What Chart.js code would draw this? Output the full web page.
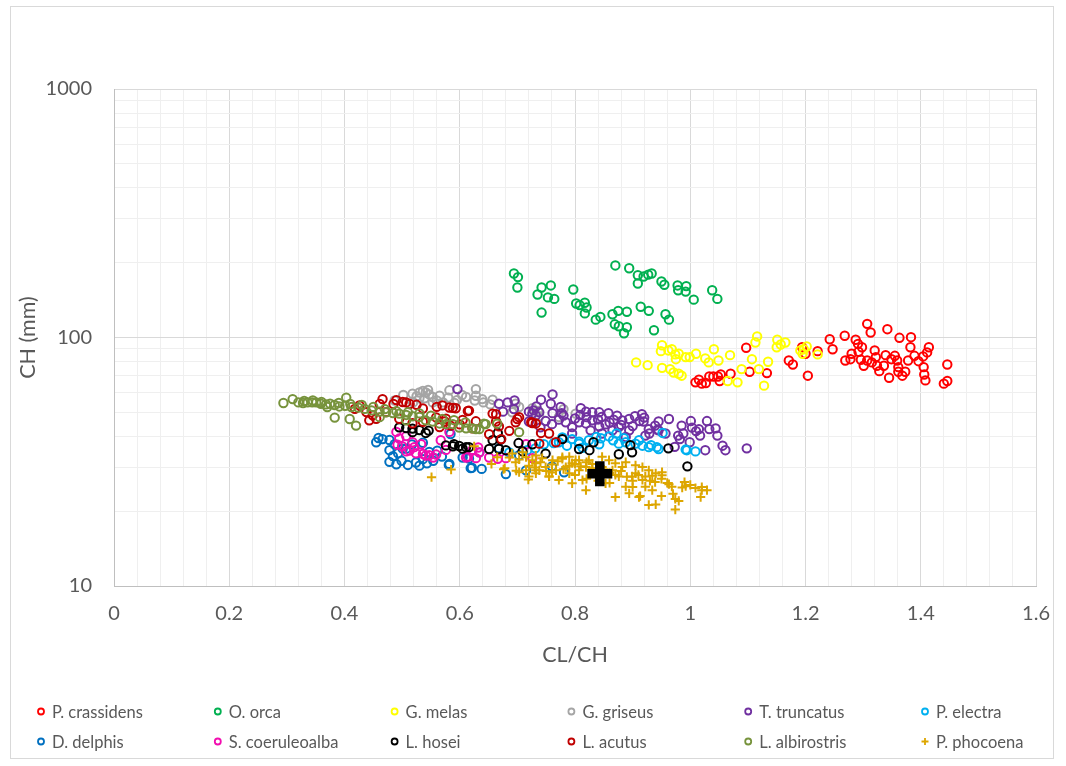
<!DOCTYPE html>
<html>
<head>
<meta charset="utf-8">
<script src="https://cdn.jsdelivr.net/npm/chart.js@4/dist/chart.umd.min.js"></script>
<style>
  html, body { margin: 0; padding: 0; background: #ffffff; }
  canvas { display: block; }
</style>
</head>
<body>
<canvas id="chart" width="1066" height="766"></canvas>
<script>
// CL/CH ratio (x) against CH in mm (y), one list of [x, y] per species
const crassidens = [[1.097,90.9],[1.009,66.0],[1.015,67.6],[1.020,65.2],[1.027,65.6],[1.033,69.7],[1.040,69.7],[1.048,69.7],[1.053,71.0],[1.051,66.8],[1.070,71.5],[1.103,72.8],[1.133,71.9],[1.171,80.8],[1.178,77.9],[1.194,91.4],[1.200,86.0],[1.204,70.2],[1.221,88.1],[1.242,98.4],[1.247,89.7],[1.268,101.6],[1.269,80.8],[1.278,81.8],[1.280,86.0],[1.287,97.9],[1.291,94.3],[1.292,87.6],[1.298,91.4],[1.296,81.4],[1.301,77.0],[1.307,113.5],[1.313,104.7],[1.307,80.8],[1.315,79.4],[1.320,88.7],[1.322,83.4],[1.324,77.0],[1.328,73.2],[1.336,77.0],[1.342,108.0],[1.339,84.9],[1.345,68.9],[1.349,81.8],[1.355,84.4],[1.359,80.8],[1.361,76.0],[1.363,99.7],[1.361,72.8],[1.368,70.2],[1.373,72.8],[1.378,80.8],[1.383,100.3],[1.382,91.4],[1.389,84.4],[1.396,80.3],[1.404,83.9],[1.405,76.0],[1.406,71.0],[1.408,67.2],[1.414,91.4],[1.411,87.1],[1.440,65.2],[1.446,77.9],[1.446,66.8]];
const orca = [[0.694,181],[0.701,175],[0.700,159],[0.742,159],[0.758,162],[0.735,149],[0.753,145],[0.764,143],[0.742,126],[0.797,156],[0.802,137],[0.808,135],[0.817,138],[0.820,132],[0.817,125],[0.836,118],[0.844,121],[0.870,195],[0.894,190],[0.909,178],[0.909,165],[0.919,176],[0.927,179],[0.933,181],[0.865,124],[0.875,128],[0.890,127],[0.869,113],[0.876,111],[0.890,110],[0.885,104],[0.914,133],[0.928,128],[0.937,107],[0.950,168],[0.955,163],[0.957,124],[0.963,118],[0.978,162],[0.993,161],[0.979,155],[0.992,153],[1.006,142],[1.038,155],[1.047,143]];
const melas = [[0.906,79.4],[0.926,77.4],[0.949,88.1],[0.951,93.1],[0.962,88.7],[0.968,89.7],[0.974,85.5],[0.975,81.8],[0.951,75.5],[0.965,74.6],[0.971,72.3],[0.980,71.5],[0.985,70.2],[0.992,83.4],[0.999,83.4],[1.010,86.0],[1.026,82.4],[1.032,79.4],[1.041,89.7],[1.049,80.8],[1.069,84.9],[1.089,74.6],[1.107,81.8],[1.113,95.5],[1.116,101.0],[1.119,74.6],[1.135,79.9],[1.065,66.8],[1.082,66.0],[1.128,64.0],[1.151,97.9],[1.150,91.4],[1.157,93.7],[1.165,95.5],[1.191,88.7],[1.197,89.7],[1.202,92.0],[1.195,86.0],[1.221,85.5],[0.980,86.0]];
const griseus = [[0.502,58.7],[0.518,59.4],[0.530,60.1],[0.536,60.9],[0.541,60.1],[0.547,59.0],[0.553,57.6],[0.560,55.8],[0.530,56.9],[0.539,56.9],[0.519,54.8],[0.582,61.3],[0.580,57.3],[0.604,58.7],[0.611,57.6],[0.628,62.0],[0.628,58.3],[0.639,56.5],[0.641,54.8],[0.657,56.2],[0.591,54.5],[0.553,54.8],[0.626,55.8],[0.653,53.8],[0.697,54.2],[0.703,52.5],[0.691,50.0],[0.726,51.9],[0.736,50.6],[0.780,51.5],[0.772,47.9],[0.801,49.4],[0.487,55.8],[0.571,54.8],[0.738,48.2],[0.545,61.5],[0.525,58.0],[0.565,58.3],[0.595,56.0]];
const truncatus = [[0.761,59.0],[0.741,56.2],[0.720,50.3],[0.728,50.9],[0.738,50.0],[0.758,54.1],[0.761,49.6],[0.775,52.5],[0.777,49.6],[0.810,51.9],[0.809,48.8],[0.819,50.3],[0.830,50.0],[0.842,50.0],[0.846,47.9],[0.858,49.6],[0.867,46.7],[0.873,48.5],[0.882,46.4],[0.894,47.0],[0.904,48.2],[0.916,49.1],[0.920,47.6],[0.912,46.1],[0.922,40.3],[0.929,41.1],[0.939,44.2],[0.945,45.9],[0.963,47.0],[0.985,44.2],[1.001,46.1],[1.003,43.4],[0.988,41.1],[0.979,40.3],[1.010,42.0],[1.017,40.3],[1.029,46.1],[1.033,42.8],[1.047,40.3],[1.056,36.7],[1.061,35.2],[1.098,35.8],[1.026,35.2],[0.807,45.6],[0.819,45.1],[0.830,46.4],[0.842,43.9],[0.853,44.7],[0.865,42.3],[0.876,43.6],[0.784,45.6],[0.772,46.7],[0.749,46.1],[0.795,43.6],[0.795,41.1],[0.827,42.3],[0.847,41.1],[0.894,42.3],[0.928,42.8],[0.945,42.3],[0.957,41.1],[0.888,39.8],[0.919,45.9],[0.943,42.6],[1.015,42.8],[1.044,43.1],[0.999,37.9],[0.982,39.0],[0.973,36.3],[0.596,62.0],[0.668,54.1],[0.683,54.8],[0.695,55.8],[0.675,50.3],[0.694,51.5],[0.726,49.4],[0.733,52.8],[0.720,45.9],[0.732,48.5],[0.780,48.5],[0.800,47.2],[0.820,47.8],[0.840,46.8],[0.860,45.5],[0.880,44.5],[0.900,44.0],[0.760,44.8],[0.740,43.5]];
const electra = [[0.763,37.6],[0.772,37.9],[0.778,39.6],[0.795,39.0],[0.807,38.1],[0.837,39.8],[0.859,40.0],[0.866,38.6],[0.876,37.4],[0.872,41.1],[0.917,36.7],[0.932,36.9],[0.945,35.6],[0.952,41.3],[0.992,35.4],[1.009,34.8],[0.813,36.0],[0.786,36.7],[0.717,35.2],[0.911,38.6],[0.942,36.2],[0.994,35.2],[0.807,37.4],[0.888,37.9],[0.905,37.4],[0.928,36.2],[0.824,38.6],[0.845,39.3],[0.746,37.2],[0.731,35.8],[0.686,34.5],[0.842,37.2],[0.885,39.3]];
const delphis = [[0.459,39.4],[0.455,37.9],[0.478,38.7],[0.487,37.2],[0.484,33.3],[0.493,34.2],[0.499,31.9],[0.507,35.7],[0.517,37.1],[0.524,31.4],[0.536,32.4],[0.543,31.2],[0.554,31.9],[0.547,34.6],[0.561,35.0],[0.569,33.2],[0.582,31.0],[0.584,40.9],[0.616,32.6],[0.638,29.6],[0.621,29.9],[0.536,37.7],[0.478,31.6],[0.501,35.7],[0.466,39.0],[0.490,30.9],[0.510,30.7],[0.530,30.5],[0.581,30.7],[0.619,29.8],[0.680,28.2],[0.605,32.9],[0.478,35.2],[0.715,29.2],[0.781,28.7],[0.760,30.3],[0.668,35.8],[0.703,33.6],[0.634,34.5]];
const coeruleoalba = [[0.490,41.7],[0.495,39.2],[0.507,40.1],[0.518,37.9],[0.533,37.2],[0.492,37.0],[0.513,35.1],[0.524,34.2],[0.536,34.0],[0.547,33.6],[0.559,33.8],[0.576,35.3],[0.582,41.7],[0.611,32.9],[0.628,32.7],[0.622,35.3],[0.507,34.8],[0.541,33.5],[0.554,32.9],[0.567,38.6],[0.614,33.1],[0.632,36.1],[0.651,32.9],[0.666,32.5],[0.680,32.7],[0.634,34.5],[0.715,37.2],[0.726,32.7],[0.500,36.5],[0.521,36.2]];
const hosei = [[0.495,43.5],[0.507,43.2],[0.518,43.0],[0.530,42.4],[0.546,42.2],[0.576,36.8],[0.590,37.2],[0.599,36.6],[0.611,36.2],[0.605,35.7],[0.518,41.6],[0.541,41.3],[0.588,36.5],[0.616,36.2],[0.651,35.6],[0.668,35.6],[0.671,38.8],[0.702,37.6],[0.657,38.6],[0.666,41.3],[0.680,35.2],[0.709,34.8],[0.726,37.2],[0.749,34.1],[0.778,39.0],[0.807,35.6],[0.825,35.2],[0.832,37.9],[0.876,33.9],[0.899,34.5],[0.896,36.9],[0.962,35.8],[0.995,30.3]];
const acutus = [[0.426,53.3],[0.438,50.1],[0.449,48.6],[0.461,54.0],[0.472,50.1],[0.485,54.0],[0.490,56.0],[0.501,55.0],[0.513,54.0],[0.525,53.6],[0.536,51.8],[0.560,52.6],[0.570,53.3],[0.582,52.3],[0.593,51.9],[0.559,47.7],[0.576,47.1],[0.605,46.6],[0.616,50.8],[0.628,46.0],[0.455,47.1],[0.495,47.1],[0.518,45.2],[0.536,45.8],[0.466,56.5],[0.507,54.8],[0.588,52.1],[0.614,50.6],[0.418,51.6],[0.443,46.4],[0.565,43.6],[0.574,45.9],[0.584,44.2],[0.600,44.7],[0.657,49.4],[0.668,43.9],[0.686,42.1],[0.700,47.0],[0.726,45.3],[0.738,37.4],[0.622,43.1],[0.663,49.1],[0.663,45.9],[0.697,45.6],[0.724,45.6],[0.741,41.3],[0.755,41.1],[0.767,37.9],[0.672,39.0],[0.651,40.8],[0.732,45.1],[0.703,47.8]];
const albirostris = [[0.294,54.5],[0.310,56.5],[0.320,54.8],[0.328,54.5],[0.336,54.8],[0.344,54.8],[0.351,54.8],[0.359,54.1],[0.368,53.8],[0.375,54.1],[0.383,53.5],[0.391,52.8],[0.403,57.3],[0.401,53.1],[0.412,52.5],[0.424,52.2],[0.435,51.6],[0.447,50.9],[0.461,50.3],[0.472,50.0],[0.484,49.7],[0.495,49.4],[0.507,48.8],[0.518,48.2],[0.530,47.9],[0.541,46.4],[0.553,45.9],[0.565,45.1],[0.576,44.8],[0.588,44.8],[0.599,43.4],[0.611,43.1],[0.622,43.1],[0.634,42.8],[0.645,44.8],[0.665,45.0],[0.383,47.6],[0.409,47.0],[0.420,44.2],[0.461,47.8],[0.507,46.4],[0.642,45.0],[0.703,41.6],[0.628,42.8],[0.330,55.5],[0.345,55.8],[0.360,55.0],[0.370,52.5],[0.390,54.5],[0.410,54.0],[0.430,53.5],[0.450,52.5],[0.470,51.5],[0.490,50.5],[0.510,50.0],[0.530,49.5],[0.550,48.5],[0.570,47.0],[0.590,46.5],[0.610,45.5]];
const phocoena = [[0.551,27.4],[0.585,29.4],[0.676,29.5],[0.697,31.5],[0.715,33.0],[0.726,32.1],[0.732,29.2],[0.719,26.8],[0.698,29.1],[0.625,36.5],[0.922,27.6],[0.934,27.8],[0.951,27.9],[0.917,26.7],[0.939,26.2],[0.963,25.7],[0.968,25.1],[0.986,24.9],[0.992,25.2],[1.009,24.8],[1.020,24.3],[1.029,24.3],[1.018,22.8],[0.934,24.3],[0.913,23.0],[0.974,22.4],[0.928,21.2],[0.940,21.3],[0.974,20.3],[0.922,25.1],[0.703,32.3],[0.715,29.2],[0.720,27.6],[0.732,31.2],[0.738,29.2],[0.749,30.1],[0.755,27.6],[0.761,32.1],[0.767,29.2],[0.772,26.7],[0.778,33.0],[0.784,30.1],[0.790,28.4],[0.795,25.9],[0.801,32.1],[0.807,29.2],[0.813,26.7],[0.819,24.3],[0.824,32.1],[0.836,27.6],[0.847,30.1],[0.853,25.9],[0.865,29.2],[0.870,22.8],[0.876,27.6],[0.882,30.1],[0.888,25.1],[0.894,23.6],[0.899,27.6],[0.905,28.4],[0.911,22.8],[0.709,34.5],[0.691,34.1],[0.686,32.9],[0.732,33.5],[0.743,32.7],[0.778,32.5],[0.790,33.1],[0.795,31.2],[0.807,32.1],[0.819,30.1],[0.847,33.1],[0.859,32.1],[0.870,31.2],[0.888,31.5],[0.905,30.6],[0.917,30.1],[0.928,29.2],[0.940,28.4],[0.951,28.7],[0.678,29.8],[0.703,28.7],[0.732,28.4],[0.755,27.6],[0.740,31.5],[0.760,30.8],[0.770,31.8],[0.790,30.5],[0.800,31.0],[0.810,30.3],[0.820,31.5],[0.830,29.8],[0.830,31.0],[0.850,29.5],[0.860,28.5],[0.870,28.0],[0.890,27.5],[0.900,26.5],[0.780,29.5],[0.760,28.6],[0.720,30.5],[0.730,30.0],[0.750,29.0],[0.800,28.0],[0.820,27.0],[0.840,26.5],[0.860,26.0],[0.880,29.0],[0.910,28.0],[0.930,26.5],[0.950,27.0],[0.960,26.0],[0.990,26.2],[1.000,25.5],[1.020,25.0],[0.970,23.5],[0.980,22.0],[0.900,25.0],[0.950,23.0],[0.655,31.0],[0.665,33.0]];
// single highlighted specimen
const specimen = [[0.843,28.3]];

const seriesNames = ['P. crassidens','O. orca','G. melas','G. griseus','T. truncatus','P. electra','D. delphis','S. coeruleoalba','L. hosei','L. acutus','L. albirostris','P. phocoena'];
const seriesData = [crassidens, orca, melas, griseus, truncatus, electra, delphis, coeruleoalba, hosei, acutus, albirostris, phocoena];
const seriesColors = ['#FF0000','#00B050','#FFFF00','#A5A5A5','#7030A0','#00B0F0','#0070C0','#F20DB0','#000000','#C00000','#77933C','#DDA600'];
const seriesMarkers = ['circle','circle','circle','circle','circle','circle','circle','circle','circle','circle','circle','cross'];

// axis ticks
const xMajorTicks = [0, 0.2, 0.4, 0.6, 0.8, 1.0, 1.2, 1.4, 1.6];
const xTickLabels = ['0','0.2','0.4','0.6','0.8','1','1.2','1.4','1.6'];
const yMajorTicks = [10, 100, 1000];
const yTickLabels = ['10','100','1000'];

const FONT = 'Lato, "Open Sans", "Liberation Sans", sans-serif';
const TEXT = '#595959';

// minor divisions: 5 per x interval, 2..9 per y decade
function xTickObjects() {
  const out = [];
  for (let i = 0; i < xMajorTicks.length; i++) {
    out.push({ value: xMajorTicks[i], major: true });
    if (i < xMajorTicks.length - 1) {
      const a = xMajorTicks[i], b = xMajorTicks[i + 1];
      for (let k = 1; k < 5; k++) out.push({ value: a + (b - a) * k / 5, major: false });
    }
  }
  return out;
}
function yTickObjects() {
  const out = [];
  for (let i = 0; i < yMajorTicks.length; i++) {
    out.push({ value: yMajorTicks[i], major: true });
    if (i < yMajorTicks.length - 1) {
      for (let k = 2; k < 10; k++) out.push({ value: yMajorTicks[i] * k, major: false });
    }
  }
  return out;
}
function labelFor(v, majors, labels) {
  for (let i = 0; i < majors.length; i++) {
    if (Math.abs(v - majors[i]) < 1e-9 * Math.max(1, majors[i])) return labels[i];
  }
  return '';
}

const datasets = seriesData.map((pts, i) => ({
  label: seriesNames[i],
  data: pts.map(p => ({ x: p[0], y: p[1] })),
  pointStyle: seriesMarkers[i],
  pointRadius: seriesMarkers[i] === 'cross' ? 4.6 : 4.2,
  pointBorderWidth: 2,
  pointBorderColor: seriesColors[i],
  pointBackgroundColor: 'rgba(0,0,0,0)',
  borderColor: seriesColors[i],
  backgroundColor: 'rgba(0,0,0,0)',
  showLine: false,
  order: 100 - i
}));
datasets.push({
  label: 'specimen',
  data: specimen.map(p => ({ x: p[0], y: p[1] })),
  pointStyle: 'cross',
  pointRadius: 12.5,
  pointBorderWidth: 9.5,
  pointBorderColor: '#000000',
  pointBackgroundColor: '#000000',
  showLine: false,
  order: 0,
  hideInLegend: true
});

// white page, outer frame and the two-row legend
const framePlugin = {
  id: 'frameAndLegend',
  beforeDraw(chart) {
    const ctx = chart.ctx;
    ctx.save();
    ctx.fillStyle = '#ffffff';
    ctx.fillRect(0, 0, chart.width, chart.height);
    ctx.strokeStyle = '#D9D9D9';
    ctx.lineWidth = 1;
    ctx.strokeRect(10.5, 6.5, 1043, 752);
    ctx.restore();
  },
  afterDraw(chart) {
    const ctx = chart.ctx;
    ctx.save();
    const items = chart.data.datasets.filter(d => !d.hideInLegend);
    items.forEach((d, i) => {
      const col = i % 6, row = Math.floor(i / 6);
      const x = 41 + col * 176.8;
      const y = 711.5 + row * 30;
      ctx.strokeStyle = d.pointBorderColor;
      ctx.lineWidth = 1.8;
      ctx.beginPath();
      if (d.pointStyle === 'cross') {
        ctx.moveTo(x - 3.5, y); ctx.lineTo(x + 3.5, y);
        ctx.moveTo(x, y - 3.5); ctx.lineTo(x, y + 3.5);
      } else {
        ctx.arc(x, y, 3, 0, Math.PI * 2);
      }
      ctx.stroke();
      ctx.fillStyle = TEXT;
      ctx.font = '16.5px ' + FONT;
      ctx.textBaseline = 'middle';
      ctx.textAlign = 'left';
      ctx.fillText(d.label, x + 11, y + 1);
    });
    ctx.restore();
  }
};

new Chart(document.getElementById('chart'), {
  type: 'scatter',
  data: { datasets },
  plugins: [framePlugin],
  options: {
    responsive: false,
    animation: false,
    events: [],
    layout: { padding: { left: 0, top: 89, right: 28, bottom: 98 } },
    plugins: { legend: { display: false }, tooltip: { enabled: false } },
    scales: {
      x: {
        type: 'linear',
        min: 0,
        max: 1.6,
        afterBuildTicks: s => { s.ticks = xTickObjects(); },
        afterFit: s => { s.height = 82; },
        ticks: {
          autoSkip: false,
          maxRotation: 0,
          padding: 16,
          color: TEXT,
          font: { family: FONT, size: 20 },
          callback: v => labelFor(v, xMajorTicks, xTickLabels)
        },
        grid: {
          drawTicks: false,
          lineWidth: 1,
          color: c => (c.tick && c.tick.major) ? '#D9D9D9' : '#EFEFEF'
        },
        border: { color: '#BFBFBF', width: 1 },
        title: {
          display: true,
          text: 'CL/CH',
          color: TEXT,
          font: { family: FONT, size: 21.5 },
          padding: { top: 7, bottom: 0 }
        }
      },
      y: {
        type: 'logarithmic',
        min: 10,
        max: 1000,
        afterBuildTicks: s => { s.ticks = yTickObjects(); },
        afterFit: s => { s.width = 114; },
        ticks: {
          autoSkip: false,
          padding: 22,
          color: TEXT,
          font: { family: FONT, size: 20 },
          callback: v => labelFor(v, yMajorTicks, yTickLabels)
        },
        grid: {
          drawTicks: false,
          lineWidth: 1,
          color: c => (c.tick && c.tick.major) ? '#D9D9D9' : '#EFEFEF'
        },
        border: { color: '#BFBFBF', width: 1 },
        title: {
          display: true,
          text: 'CH (mm)',
          color: TEXT,
          font: { family: FONT, size: 21.5 },
          padding: { top: 15, bottom: 0 }
        }
      }
    }
  }
});
</script>
</body>
</html>
